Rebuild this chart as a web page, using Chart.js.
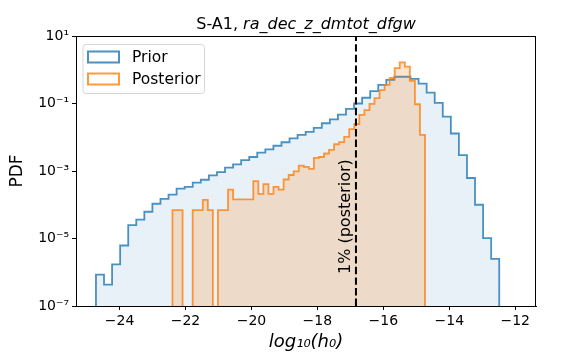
<!DOCTYPE html>
<html>
<head>
<meta charset="utf-8">
<script src="https://cdn.jsdelivr.net/npm/chart.js@4.4.0/dist/chart.umd.min.js"></script>
<style>
  html, body { margin: 0; padding: 0; background: #fff; }
  #wrap { width: 576px; height: 360px; }
</style>
</head>
<body>
<div id="wrap"><canvas id="grafico" width="576" height="360"></canvas></div>
<script>
// Rango de cada histograma (50 bins cada uno)
const priorRange = [-24.715, -12.485];
const posteriorRange = [-22.394, -14.736];

// PDF por bin
const priorPdf = [
    8.5e-7, 4.3e-7, 1.7e-6, 6.2e-6, 2.5e-5, 3.6e-5, 6.2e-5, 1.07e-4, 1.5e-4, 2.0e-4,
    3.0e-4, 3.4e-4, 4.5e-4, 5.5e-4, 7.4e-4, 9.3e-4, 1.26e-3, 1.58e-3, 2.1e-3, 2.6e-3,
    3.5e-3, 4.4e-3, 5.6e-3, 7.1e-3, 9.3e-3, 1.17e-2, 1.45e-2, 1.9e-2, 2.6e-2, 3.4e-2,
    4.7e-2, 6.9e-2, 0.100, 0.148, 0.234, 0.355, 0.50, 0.62, 0.62, 0.54,
    0.39, 0.21, 0.105, 0.041, 0.0129, 2.95e-3, 6.2e-4, 1.0e-4, 1.02e-5, 2.5e-6
];
const posteriorPdf = [
    6.9e-5, 6.9e-5, 0, 0, 6.9e-5, 6.9e-5, 1.4e-4, 6.9e-5, 0, 6.9e-5,
    6.9e-5, 2.8e-4, 1.45e-4, 1.45e-4, 1.45e-4, 1.45e-4, 5.0e-4, 2.1e-4, 4.1e-4, 2.1e-4,
    3.4e-4, 2.8e-4, 5.6e-4, 7.6e-4, 9.8e-4, 1.45e-3, 1.32e-3, 1.15e-3, 2.45e-3, 2.6e-3,
    3.3e-3, 4.2e-3, 6.2e-3, 7.2e-3, 1.02e-2, 1.75e-2, 2.47e-2, 4.6e-2, 6.4e-2, 9.7e-2,
    0.145, 0.25, 0.355, 0.57, 1.12, 1.66, 1.23, 0.47, 0.095, 0.0117
];

const limite1pc = -16.83;
const xTicks = [-24, -22, -20, -18, -16, -14, -12];
const yTickExps = [1, -1, -3, -5, -7];
const xLimits = [-25.32, -11.37];
const yLimits = [1e-7, 10];
const etiquetas = ['Prior', 'Posterior'];
const etiquetaLinea = '1% (posterior)';

const FUENTE = "'DejaVu Sans', sans-serif";
const azul = 'rgba(31,119,180,0.8)';
const naranja = 'rgba(255,127,14,0.8)';

// Contorno escalonado de un histograma (las esquinas de cada bin)
function contornoHist(rango, pdf) {
    const n = pdf.length;
    const ancho = (rango[1] - rango[0]) / n;
    const piso = 1e-12; // debajo del eje, se recorta
    const pts = [{ x: rango[0], y: piso }];
    pdf.forEach((v, i) => {
        const y = v > 0 ? v : piso;
        pts.push({ x: rango[0] + i * ancho, y: y });
        pts.push({ x: rango[0] + (i + 1) * ancho, y: y });
    });
    pts.push({ x: rango[1], y: piso });
    return pts;
}

const supers = { '-': '\u207B', '0': '\u2070', '1': '\u00B9', '2': '\u00B2', '3': '\u00B3',
    '4': '\u2074', '5': '\u2075', '6': '\u2076', '7': '\u2077', '8': '\u2078', '9': '\u2079' };
function potencia(v) {
    const e = String(Math.round(Math.log10(v)));
    return '10' + e.split('').map(c => supers[c]).join('');
}

// Marco, titulo, leyenda y texto de la linea
const extras = {
    id: 'extras',
    afterDraw(chart) {
        const { ctx, chartArea: a, scales } = chart;
        ctx.save();
        ctx.strokeStyle = '#000';
        ctx.lineWidth = 1;
        ctx.strokeRect(a.left + 0.5, a.top + 0.5, a.right - a.left - 1, a.bottom - a.top);

        // titulo
        const t1 = 'S-A1, ';
        const t2 = 'ra_dec_z_dmtot_dfgw';
        ctx.fillStyle = '#000';
        ctx.textBaseline = 'alphabetic';
        ctx.font = '16px ' + FUENTE;
        const w1 = ctx.measureText(t1).width;
        ctx.font = 'italic 16px ' + FUENTE;
        const w2 = ctx.measureText(t2).width;
        const cx = (a.left + a.right) / 2;
        let x0 = cx - (w1 + w2) / 2;
        ctx.font = '16px ' + FUENTE;
        ctx.textAlign = 'left';
        ctx.fillText(t1, x0, 29);
        ctx.font = 'italic 16px ' + FUENTE;
        ctx.fillText(t2, x0 + w1, 29);

        // leyenda
        const lx = a.left + 7, ly = a.top + 8.5, lw = 121.5, lh = 49;
        ctx.beginPath();
        ctx.roundRect(lx, ly, lw, lh, 3);
        ctx.fillStyle = 'rgba(255,255,255,0.8)';
        ctx.fill();
        ctx.strokeStyle = 'rgba(204,204,204,0.8)';
        ctx.stroke();
        ctx.font = '15.5px ' + FUENTE;
        ctx.textBaseline = 'middle';
        [azul, naranja].forEach((col, i) => {
            const yy = ly + 12.5 + i * 22;
            ctx.strokeStyle = col;
            ctx.lineWidth = 2;
            ctx.strokeRect(lx + 5, yy - 5.5, 31, 11);
            ctx.fillStyle = '#000';
            ctx.fillText(etiquetas[i], lx + 49, yy + 1);
        });

        // texto vertical junto a la linea
        const px = scales.x.getPixelForValue(limite1pc);
        ctx.translate(px - 6, 274);
        ctx.rotate(-Math.PI / 2);
        ctx.font = '16px ' + FUENTE;
        ctx.textAlign = 'left';
        ctx.textBaseline = 'alphabetic';
        ctx.fillStyle = '#000';
        ctx.fillText(etiquetaLinea, 0, 0);
        ctx.restore();
    }
};

const ctx = document.getElementById('grafico').getContext('2d');

new Chart(ctx, {
    type: 'line',
    data: {
        datasets: [
            {
                label: etiquetas[0],
                data: contornoHist(priorRange, priorPdf),
                borderColor: azul,
                backgroundColor: 'rgba(31,119,180,0.1)',
                borderWidth: 1.8,
                fill: 'start',
                pointRadius: 0,
                order: 3
            },
            {
                label: etiquetas[1],
                data: contornoHist(posteriorRange, posteriorPdf),
                borderColor: naranja,
                backgroundColor: 'rgba(255,127,14,0.2)',
                borderWidth: 1.8,
                fill: 'start',
                pointRadius: 0,
                order: 2
            },
            {
                label: etiquetaLinea,
                data: [{ x: limite1pc, y: yLimits[0] }, { x: limite1pc, y: yLimits[1] }],
                borderColor: '#000',
                borderWidth: 2,
                borderDash: [7.4, 3.2],
                pointRadius: 0,
                fill: false,
                order: 1
            }
        ]
    },
    options: {
        responsive: false,
        animation: false,
        devicePixelRatio: 1,
        layout: { padding: { top: 36, right: 40, left: 0, bottom: 0 } },
        plugins: {
            legend: { display: false },
            tooltip: { enabled: false }
        },
        scales: {
            x: {
                type: 'linear',
                min: xLimits[0],
                max: xLimits[1],
                afterBuildTicks: axis => { axis.ticks = xTicks.map(v => ({ value: v })); },
                afterFit: axis => { axis.height = 54; },
                ticks: {
                    color: '#000',
                    font: { family: FUENTE, size: 14 },
                    padding: 3,
                    callback: v => String(v).replace('-', '\u2212')
                },
                grid: { drawOnChartArea: false, tickLength: 4, color: '#000' },
                border: { color: '#000' },
                title: {
                    display: true,
                    text: 'log\u2081\u2080(h\u2080)',
                    color: '#000',
                    font: { family: FUENTE, size: 18, style: 'italic' },
                    padding: { top: 0, bottom: 7 }
                }
            },
            y: {
                type: 'logarithmic',
                min: yLimits[0],
                max: yLimits[1],
                afterBuildTicks: axis => { axis.ticks = yTickExps.map(e => ({ value: Math.pow(10, e) })); },
                afterFit: axis => { axis.width = 76; },
                ticks: {
                    color: '#000',
                    font: { family: FUENTE, size: 14 },
                    padding: 3,
                    callback: v => potencia(v)
                },
                grid: { drawOnChartArea: false, tickLength: 4, color: '#000' },
                border: { color: '#000' },
                title: {
                    display: true,
                    text: 'PDF',
                    color: '#000',
                    font: { family: FUENTE, size: 17 },
                    padding: { top: 7, bottom: 0 }
                }
            }
        }
    },
    plugins: [extras]
});
</script>
</body>
</html>
